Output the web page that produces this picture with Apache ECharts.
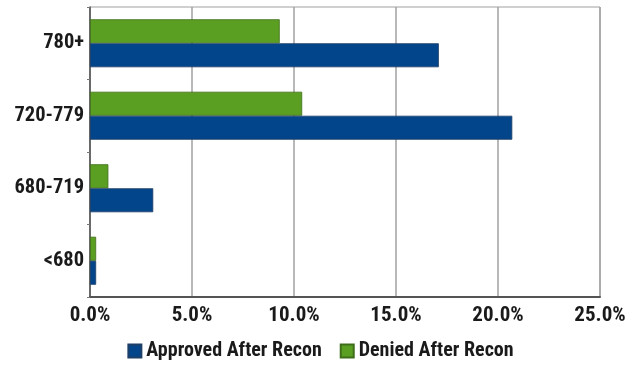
<!DOCTYPE html>
<html><head><meta charset="utf-8">
<script src="https://cdn.jsdelivr.net/npm/echarts@6/dist/echarts.min.js"></script>
<style>html,body{margin:0;padding:0;background:#fff}#c{width:641px;height:372px}</style>
</head><body><div id="c"></div>
<script>
var categories = ['<680', '680-719', '720-779', '780+'];
var approved = [0.3, 3.1, 20.7, 17.1];
var denied = [0.3, 0.9, 10.4, 9.3];
var tickLabels = ['0.0%', '5.0%', '10.0%', '15.0%', '20.0%', '25.0%'];
var FONT = '"Roboto Condensed", "Roboto", sans-serif';
var chart = echarts.init(document.getElementById('c'));
chart.setOption({
  animation: false,
  grid: {left: 90, right: 41, top: 7, bottom: 75, show: true, borderColor: '#a0a0a0', borderWidth: 1},
  legend: {
    bottom: 6, left: 'center', itemWidth: 13, itemHeight: 13, itemGap: 18,
    icon: 'rect',
    textStyle: {fontFamily: FONT, fontWeight: 'bold', fontSize: 20, color: '#1a1a1a'},
    data: ['Approved After Recon', 'Denied After Recon']
  },
  xAxis: {
    type: 'value', min: 0, max: 25, interval: 5,
    axisLine: {show: true, lineStyle: {color: '#555', width: 2}},
    axisTick: {show: false},
    splitLine: {show: true, lineStyle: {color: '#a0a0a0', width: 1.5}},
    axisLabel: {
      fontFamily: FONT, fontWeight: 'bold', fontSize: 21, color: '#1a1a1a', margin: 8,
      formatter: function (v) { return tickLabels[Math.round(v / 5)]; }
    }
  },
  yAxis: {
    type: 'category', data: categories,
    axisLine: {show: true, lineStyle: {color: '#555', width: 1.5}},
    axisTick: {show: true, length: 3, lineStyle: {color: '#777'}},
    axisLabel: {fontFamily: FONT, fontWeight: 'bold', fontSize: 20.5, color: '#1a1a1a', margin: 6}
  },
  series: [
    {name: 'Denied After Recon', type: 'bar', data: denied, barWidth: 24, barGap: '0%',
     itemStyle: {color: '#5b9f22', borderColor: '#3f6e1a', borderWidth: 0.8}},
    {name: 'Approved After Recon', type: 'bar', data: approved, barWidth: 24, barGap: '0%',
     itemStyle: {color: '#03458a', borderColor: '#1e3f66', borderWidth: 0.8}}
  ]
});
</script></body></html>
